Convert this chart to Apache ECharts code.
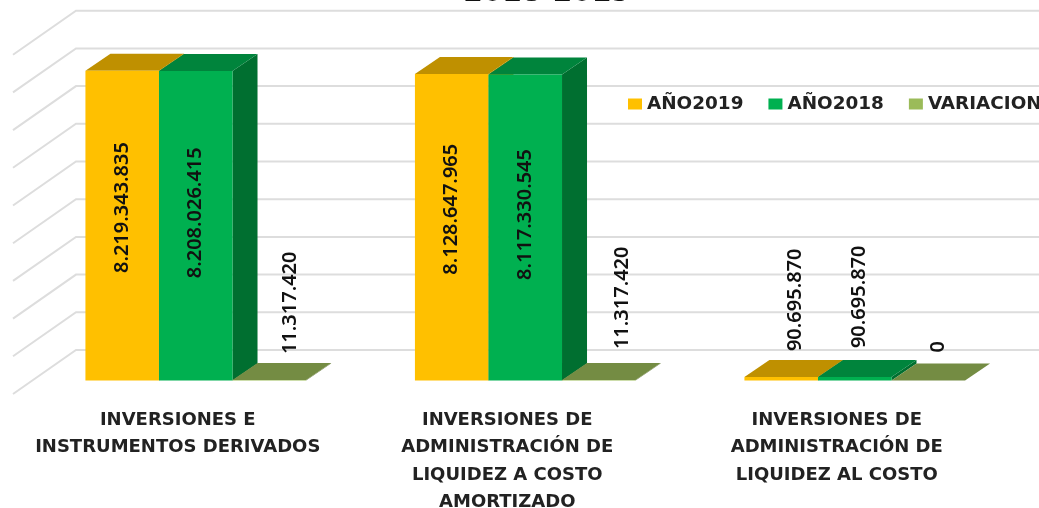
<!DOCTYPE html>
<html>
<head>
<meta charset="utf-8">
<title>Inversiones</title>
<style>
html,body{margin:0;padding:0;background:#fff;overflow:hidden}
#main{width:1039px;height:508px}
</style>
<script src="https://cdn.jsdelivr.net/npm/echarts@6/dist/echarts.min.js"></script>
</head>
<body>
<div id="main"></div>
<script>
var categories = [
	'INVERSIONES E\nINSTRUMENTOS DERIVADOS',
	'INVERSIONES DE\nADMINISTRACIÓN DE\nLIQUIDEZ A COSTO\nAMORTIZADO',
	'INVERSIONES DE\nADMINISTRACIÓN DE\nLIQUIDEZ AL COSTO'
];
var anio2019 = [8219343835, 8128647965, 90695870];
var anio2018 = [8208026415, 8117330545, 90695870];
var variacion = [11317420, 11317420, 0];
var gridValues = [0, 1e9, 2e9, 3e9, 4e9, 5e9, 6e9, 7e9, 8e9, 9e9];

// caras de cada serie: frente, tapa, lateral
var faces = {
	y2019: ['#FFC000', '#BF9000', '#BF9000'],
	y2018: ['#00B050', '#00843C', '#006F30'],
	vari: ['#9BBB59', '#748C43', '#5F7436']
};
var depthX = 25, depthY = 17;

function dots(v){
	return String(v).replace(/\B(?=(\d{3})+$)/g, '.');
}
function poly(pts, color){
	return {type: 'polygon', shape: {points: pts}, style: {fill: color}};
}
// barra 3D: idx es la posicion de la serie dentro del grupo
function barRender(idx, colors, nudges){
	return function(params, api){
		var cat = api.value(0), val = api.value(1);
		var top = api.coord([cat, val]), base = api.coord([cat, 0]);
		var w = api.size([1, 0])[0] * 0.2232;
		var x0 = top[0] + 18 + (idx - 1.5) * w, x1 = x0 + w;
		var n = nudges[cat];
		var inside = (base[1] - top[1]) > 100;
		var tx = x0 + w / 2 + n[0];
		var ty = inside ? (top[1] + base[1]) / 2 + n[1] : top[1] + n[1];
		return {type: 'group', children: [
			poly([[x1, top[1]], [x1 + depthX, top[1] - depthY], [x1 + depthX, base[1] - depthY], [x1, base[1]]], colors[2]),
			poly([[x0, top[1]], [x0 + depthX, top[1] - depthY], [x1 + depthX, top[1] - depthY], [x1, top[1]]], colors[1]),
			poly([[x0, top[1]], [x1, top[1]], [x1, base[1]], [x0, base[1]]], colors[0]),
			{type: 'text', x: tx, y: ty, rotation: Math.PI / 2, style: {
				text: dots(val), align: inside ? 'center' : 'left', verticalAlign: 'middle',
				fill: '#111', font: '600 20px "Noto Sans"'
			}}
		]};
	};
}
function wallRender(params, api){
	var y = api.coord([0, api.value(1)])[1];
	var x = params.coordSys.x;
	return {type: 'polyline', shape: {points: [[x, y + 13.5], [x + 63, y - 30.5], [api.getWidth(), y - 30.5]]},
		style: {stroke: '#DDDDDD', lineWidth: 2, fill: null}};
}
function pairs(values){
	return values.map(function(v, i){ return [i, v]; });
}

var myChart = echarts.init(document.getElementById('main'));
myChart.setOption({
	animation: false,
	title: {
		text: '2018-2019', left: 542, textAlign: 'center', top: -25,
		textStyle: {fontFamily: 'DejaVu Sans', fontWeight: 'bold', fontSize: 28, color: '#111'}
	},
	legend: {
		left: 623, top: 90, width: 700, itemWidth: 14, itemHeight: 11, itemGap: 25, icon: 'rect',
		data: ['AÑO2019', 'AÑO2018', 'VARIACION'],
		textStyle: {fontFamily: 'DejaVu Sans', fontWeight: 'bold', fontSize: 18.4, color: '#222'}
	},
	grid: {left: 13, right: 37.5, top: 41.2, bottom: 127.5, outerBoundsMode: 'none'},
	xAxis: {
		type: 'category', data: categories,
		axisLine: {show: false}, axisTick: {show: false},
		axisLabel: {
			margin: 26, fontFamily: 'DejaVu Sans', fontWeight: 'bold', fontSize: 18, lineHeight: 27.5, color: '#222', interval: 0
		}
	},
	yAxis: {type: 'value', min: 0, max: 9e9, interval: 1e9, show: false},
	series: [
		{type: 'custom', silent: true, renderItem: wallRender, data: gridValues.map(function(v){ return [0, v]; }), z: 1},
		{name: 'AÑO2019', type: 'custom', renderItem: barRender(0, faces.y2019, [[0, -18], [0, -18], [14, -26]]), data: pairs(anio2019), itemStyle: {color: faces.y2019[0]}, z: 2},
		{name: 'AÑO2018', type: 'custom', renderItem: barRender(1, faces.y2018, [[0, -13], [0, -13], [5, -29]]), data: pairs(anio2018), itemStyle: {color: faces.y2018[0]}, z: 2},
		{name: 'VARIACION', type: 'custom', renderItem: barRender(2, faces.vari, [[21, -26], [24, -31], [10, -28]]), data: pairs(variacion), itemStyle: {color: faces.vari[0]}, z: 2}
	]
});
</script>
</body>
</html>
